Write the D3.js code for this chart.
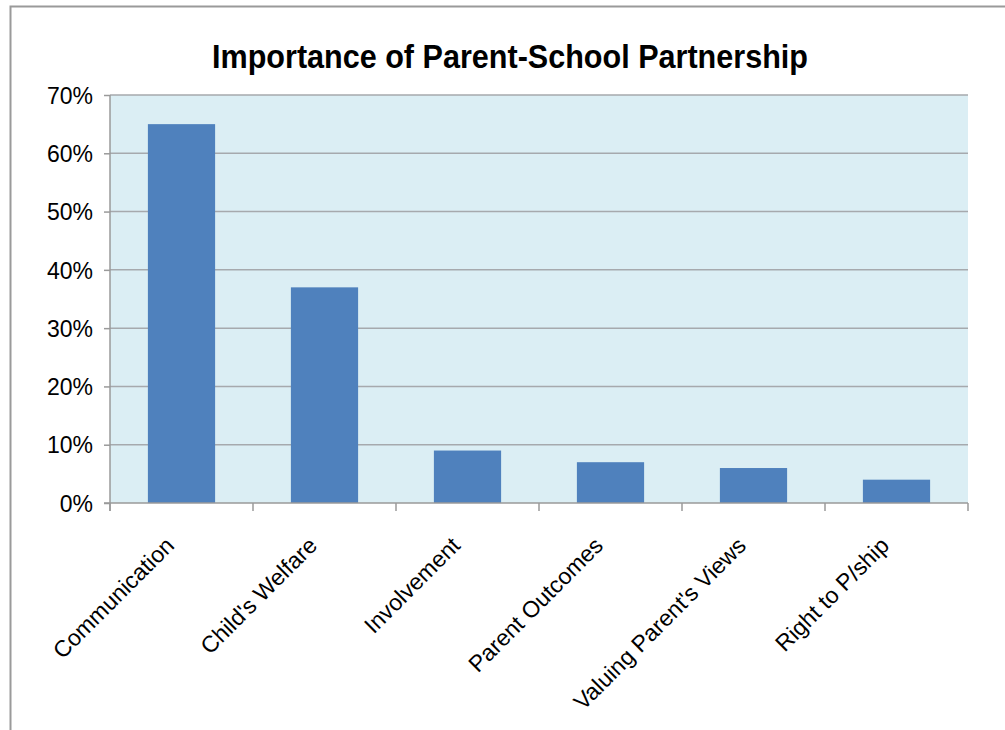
<!DOCTYPE html>
<html>
<head>
<meta charset="utf-8">
<script src="https://cdn.jsdelivr.net/npm/d3@7"></script>
<style>
  html, body { margin: 0; padding: 0; background: #ffffff; }
  svg { display: block; }
  text { font-family: "Liberation Sans", Arial, sans-serif; fill: #000; }
</style>
</head>
<body>
<script>
// Survey responses: share of parents naming each aspect of the partnership
const categories = ["Communication", "Child's Welfare", "Involvement", "Parent Outcomes", "Valuing Parent's Views", "Right to P/ship"];
const values = [0.65, 0.37, 0.09, 0.07, 0.06, 0.04];
const yTicks = [0, 0.1, 0.2, 0.3, 0.4, 0.5, 0.6, 0.7];
const title = "Importance of Parent-School Partnership";

const W = 1005, H = 730;
const plot = { left: 110, right: 968, top: 95, bottom: 503 };

const svg = d3.select("body").append("svg")
  .attr("width", W).attr("height", H);

// Chart frame (top and left edges)
svg.append("path")
  .attr("d", `M10.5,${H} V6.5 H${W}`)
  .attr("fill", "none")
  .attr("stroke", "#9a9a9a")
  .attr("stroke-width", 2);

const x = d3.scaleBand()
  .domain(categories)
  .range([plot.left, plot.right])
  .paddingInner(0.53)
  .paddingOuter(0.265);

const y = d3.scaleLinear()
  .domain([0, 0.7])
  .range([plot.bottom, plot.top]);

// Plot background
svg.append("rect")
  .attr("x", plot.left).attr("y", plot.top)
  .attr("width", plot.right - plot.left)
  .attr("height", plot.bottom - plot.top)
  .attr("fill", "#dbeef4");

// Horizontal gridlines
svg.append("g").selectAll("line")
  .data(yTicks.filter(d => d > 0))
  .join("line")
  .attr("x1", plot.left).attr("x2", plot.right)
  .attr("y1", d => y(d)).attr("y2", d => y(d))
  .attr("stroke", "#a6a9ad")
  .attr("stroke-width", 1.5);

// Bars
svg.append("g").selectAll("rect")
  .data(values)
  .join("rect")
  .attr("x", (d, i) => x(categories[i]))
  .attr("width", x.bandwidth())
  .attr("y", d => y(d))
  .attr("height", d => y(0) - y(d))
  .attr("fill", "#4f81bd");

// Y axis
const yAxis = d3.axisLeft(y)
  .tickValues(yTicks)
  .tickFormat(d3.format(".0%"))
  .tickSize(6)
  .tickPadding(11);

const gy = svg.append("g")
  .attr("transform", `translate(${plot.left},0)`)
  .call(yAxis);
gy.select(".domain").remove();
gy.append("line")
  .attr("x1", 0).attr("x2", 0)
  .attr("y1", plot.top).attr("y2", plot.bottom + 8)
  .attr("stroke", "#9a9a9a").attr("stroke-width", 1.5);
gy.selectAll(".tick line").attr("stroke", "#9a9a9a").attr("stroke-width", 1.5);
gy.selectAll(".tick text")
  .attr("font-size", 23)
  .attr("font-family", "Liberation Sans, Arial, sans-serif")
  .attr("fill", "#000")
  .attr("dy", "0.36em");

// X axis: baseline and boundary ticks between categories
const gx = svg.append("g");
gx.append("line")
  .attr("x1", plot.left - 6).attr("x2", plot.right)
  .attr("y1", plot.bottom).attr("y2", plot.bottom)
  .attr("stroke", "#9a9a9a").attr("stroke-width", 1.5);
const step = x.step();
const bounds = d3.range(categories.length + 1).map(i => plot.left + i * step);
gx.selectAll("line.bound")
  .data(bounds)
  .join("line")
  .attr("class", "bound")
  .attr("x1", d => d).attr("x2", d => d)
  .attr("y1", plot.bottom).attr("y2", plot.bottom + 8)
  .attr("stroke", "#9a9a9a").attr("stroke-width", 1.5);

// Rotated category labels
gx.selectAll("text")
  .data(categories)
  .join("text")
  .attr("transform", d => `translate(${x(d) + x.bandwidth() / 2 - 6},${plot.bottom + 44}) rotate(-45)`)
  .attr("text-anchor", "end")
  .attr("font-size", 23)
  .text(d => d);

// Title
svg.append("text")
  .attr("x", 510).attr("y", 68)
  .attr("text-anchor", "middle")
  .attr("font-size", 33)
  .attr("font-weight", "bold")
  .attr("textLength", 596)
  .attr("lengthAdjust", "spacingAndGlyphs")
  .text(title);
</script>
</body>
</html>
